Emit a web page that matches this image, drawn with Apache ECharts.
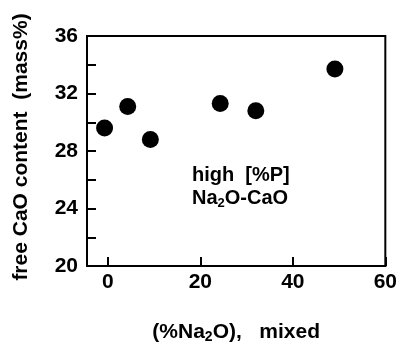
<!DOCTYPE html>
<html>
<head>
<meta charset="utf-8">
<script src="https://cdn.jsdelivr.net/npm/echarts@6/dist/echarts.min.js"></script>
<style>
  html, body { margin: 0; padding: 0; background: #fff; }
</style>
</head>
<body>
<div id="main" style="width: 400px;height:349px;"></div>
<script>
  // data
  let naO = [-0.7, 4.3, 9.2, 24.3, 32, 49.1];
  let freeCaO = [29.6, 31.1, 28.8, 31.3, 30.8, 33.7];
  let xTicks = [0, 20, 40, 60];
  let yLabels = [20, 24, 28, 32, 36];

  let points = naO.map(function (x, i) { return [x, freeCaO[i]]; });

  let font = 'Liberation Sans, Arial, sans-serif';
  let myChart = echarts.init(document.getElementById('main'));

  let option = {
    animation: false,
    backgroundColor: '#fff',
    grid: {
      left: 87, right: 14, top: 36, bottom: 71,
      show: true, borderColor: '#000', borderWidth: 2
    },
    xAxis: {
      type: 'value',
      min: -4.5,
      max: 60,
      axisLine: { onZero: false, lineStyle: { color: '#000', width: 2 } },
      axisTick: { inside: true, length: 9, customValues: xTicks, lineStyle: { color: '#000', width: 2 } },
      axisLabel: {
        customValues: xTicks, color: '#000', fontSize: 21, fontWeight: 'bold',
        fontFamily: font, margin: 6
      },
      splitLine: { show: false },
      name: '{a|(%Na}{s|2}{a|O),   mixed}',
      nameLocation: 'middle',
      nameGap: 54,
      nameTextStyle: {
        rich: {
          a: { fontSize: 21, fontWeight: 'bold', fontFamily: font, color: '#000' },
          s: { fontSize: 14, fontWeight: 'bold', fontFamily: font, color: '#000', padding: [10, 0, 0, 0] }
        }
      }
    },
    yAxis: {
      type: 'value',
      min: 20,
      max: 36,
      interval: 2,
      axisLine: { onZero: false, lineStyle: { color: '#000', width: 2 } },
      axisTick: { inside: true, length: 9, lineStyle: { color: '#000', width: 2 } },
      axisLabel: {
        color: '#000', fontSize: 21, fontWeight: 'bold', fontFamily: font, margin: 9,
        formatter: function (v) { return yLabels.indexOf(v) >= 0 ? String(v) : ''; }
      },
      splitLine: { show: false }
    },
    graphic: [
      {
        type: 'text', x: 21, y: 147, rotation: Math.PI / 2,
        style: {
          text: 'free CaO content  (mass%)', fill: '#000', font: 'bold 21px ' + font,
          textAlign: 'center', textVerticalAlign: 'middle'
        }
      },
      {
        type: 'text', x: 192, y: 175,
        style: {
          text: 'high  [%P]', fill: '#000', font: 'bold 20px ' + font,
          textAlign: 'left', textVerticalAlign: 'middle'
        }
      },
      {
        type: 'text', x: 192, y: 198,
        style: {
          text: '{a|Na}{s|2}{a|O-CaO}',
          textAlign: 'left', textVerticalAlign: 'middle',
          rich: {
            a: { fontSize: 20, fontWeight: 'bold', fontFamily: font, fill: '#000' },
            s: { fontSize: 13, fontWeight: 'bold', fontFamily: font, fill: '#000', padding: [10, 0, 0, 0] }
          }
        }
      }
    ],
    series: [
      {
        type: 'scatter',
        symbol: 'circle',
        symbolSize: 17,
        itemStyle: { color: '#000', opacity: 1 },
        data: points
      }
    ]
  };
  myChart.setOption(option);
</script>
</body>
</html>
